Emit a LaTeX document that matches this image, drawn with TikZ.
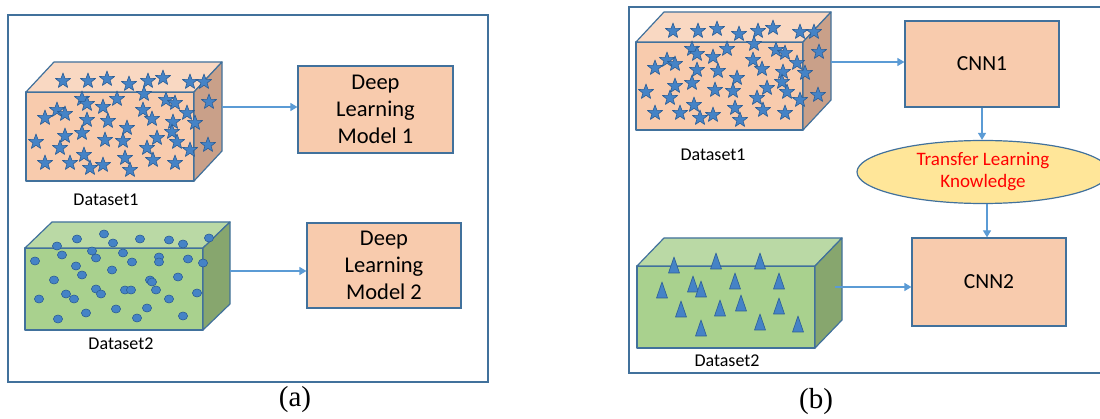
\documentclass[tikz,border=0pt]{standalone}
\usepackage{fontspec}
\setmainfont{Carlito}
\newfontfamily\timesf{Liberation Serif}
\usetikzlibrary{shapes.geometric,arrows.meta}
\definecolor{bord}{HTML}{41719C}
\definecolor{orfront}{HTML}{F8CBAD}
\definecolor{ortop}{HTML}{F9D8C2}
\definecolor{orside}{HTML}{C9A089}
\definecolor{grfront}{HTML}{A9D18E}
\definecolor{grtop}{HTML}{BAD9A5}
\definecolor{grside}{HTML}{87A66E}
\definecolor{arrc}{HTML}{5B9BD5}
\definecolor{shapec}{HTML}{4583C6}
\definecolor{shapeb}{HTML}{2C5E96}
\definecolor{ellc}{HTML}{FFE699}
\newcommand\mycube[7]{%
  \filldraw[fill=#7front, cubeline] (#1,#2) rectangle (#3,#4);
  \filldraw[fill=#7top, cubeline] (#1,#2) -- (#1+#5,#2-#6) -- (#3+#5,#2-#6) -- (#3,#2) -- cycle;
  \filldraw[fill=#7side, cubeline] (#3,#2) -- (#3+#5,#2-#6) -- (#3+#5,#4-#6) -- (#3,#4) -- cycle;
}
\newcommand\mystar[2]{%
  \filldraw[shapesty] (#1,#2) +(90:8pt) -- +(126:3.3pt) -- +(162:8pt) -- +(198:3.3pt) -- +(234:8pt) -- +(270:3.3pt) -- +(306:8pt) -- +(342:3.3pt) -- +(18:8pt) -- +(54:3.3pt) -- cycle;
}
\newcommand\allstars{%
  \foreach \sx/\sy in {63/81, 88/81, 107/79, 129/84, 148/81, 163/78, 190/82, 204/82,
    82/99, 87/104, 117/99, 144/94, 166/100, 175/103, 57/110, 65/114, 45/118, 103/107,
    143/110, 152/119, 187/113, 195/123, 209/102, 87/120, 108/121, 127/128, 173/122,
    172/132, 82/133, 65/136, 36/142, 105/140, 123/141, 157/138, 177/142, 147/148,
    60/148, 190/150, 208/145, 45/163, 70/163, 84/155, 90/168, 103/165, 125/158,
    130/170, 153/160, 175/163} {\mystar{\sx}{\sy}}%
}
\begin{document}
\begin{tikzpicture}[x=1pt,y=-1pt,
  cubeline/.style={draw=bord, line width=1.2pt, line join=round},
  shapesty/.style={fill=shapec, draw=shapeb, line width=0.6pt, line join=round},
  panel/.style={draw=bord, line width=1.6pt},
  modelbox/.style={draw=bord, line width=1.2pt, fill=orfront, rectangle, inner sep=0pt,
    align=center, font=\fontsize{22.5}{27}\selectfont},
  cnnbox/.style={modelbox, font=\fontsize{21.5}{26}\selectfont},
  dslabel/.style={font=\fontsize{18}{22}\selectfont, inner sep=0pt},
  sublabel/.style={font=\timesf\fontsize{29}{32}\selectfont, inner sep=0pt},
  arr/.style={draw=arrc, line width=1.2pt, -{Triangle[length=7pt,width=8pt]}},
]
\useasboundingbox (0,0) rectangle (1100,419);
\fill[white] (0,0) rectangle (1100,419);

% ---------- panel (a) ----------
\draw[panel] (8,15) rectangle (488,382);
\mycube{26}{92}{194}{181}{28}{30}{or}
\allstars
\coordinate (a1out) at (222,107);
\node[modelbox, minimum width=155pt, minimum height=87pt] (m1) at (375.5,109.5) {Deep\\Learning\\Model 1};
\draw[arr] (a1out) -- (a1out -| m1.west);
\node[dslabel] (ds1a) at (106,200) {Dataset1};

\mycube{25}{248}{203}{330}{27}{26}{gr}
\foreach \cx/\cy in {77/239, 104/234, 140/239, 169/240, 183/244, 209/238, 57/246, 113/243,
  35/261, 62/255, 92/251, 96/258, 123/253, 132/262, 159/257, 159/262, 188/259, 203/263,
  76/266, 82/275, 112/270, 54/280, 150/280, 152/282, 178/277, 96/289, 101/294, 125/290,
  131/290, 156/290, 66/294, 74/299, 39/299, 169/299, 197/293, 86/313, 116/309, 147/308,
  58/319, 137/318, 183/316}
  {\filldraw[shapesty] (\cx,\cy) ellipse [x radius=4.6pt, y radius=4pt];}
\coordinate (a2out) at (230,271);
\node[modelbox, minimum width=154pt, minimum height=85pt] (m2) at (384,265.5) {Deep\\Learning\\Model 2};
\draw[arr] (a2out) -- (a2out -| m2.west);
\node[dslabel] (ds2a) at (121,344) {Dataset2};
\node[sublabel] (la) at (295,400) {(a)};

% ---------- panel (b) ----------
\draw[panel] (629,7) rectangle (1115,373);
\mycube{636}{42}{803}{130}{28}{30}{or}
\begin{scope}[shift={(610,-50)}]
  \allstars
\end{scope}
\coordinate (b1out) at (831,62);
\node[cnnbox, minimum width=154pt, minimum height=86pt] (cnn1) at (982,64) {CNN1};
\draw[arr] (b1out) -- (b1out -| cnn1.west);
\node[dslabel] (ds1b) at (713,155) {Dataset1};

\node[ellipse, draw=bord, line width=1.2pt, fill=ellc, minimum width=252pt, minimum height=63pt,
  inner sep=0pt, align=center, text=red, font=\fontsize{19}{22}\selectfont] (tl) at (983,172)
  {Transfer Learning\\Knowledge};
\draw[arr] (cnn1.south) -- (cnn1.south |- tl.north);

\mycube{637}{266}{815}{348}{27}{28}{gr}
\foreach \tx/\ty in {674/265, 716/261, 760/261, 662/290, 693/284, 701/289, 735/281, 779/281,
  681/309, 720/308, 741/303, 779/306, 701/328, 760/322, 798/324}
  {\filldraw[shapesty] (\tx,\ty) +(0,-8) -- +(5.5,8) -- +(-5.5,8) -- cycle;}
\coordinate (b2out) at (835,287);
\node[cnnbox, minimum width=154pt, minimum height=88pt] (cnn2) at (989,282) {CNN2};
\draw[arr] (b2out) -- (b2out -| cnn2.west);
\draw[arr] (tl.south -| 987,0) -- (cnn2.north -| 987,0);
\node[dslabel] (ds2b) at (727,361) {Dataset2};
\node[sublabel] (lb) at (816,402) {(b)};
\end{tikzpicture}
\end{document}
